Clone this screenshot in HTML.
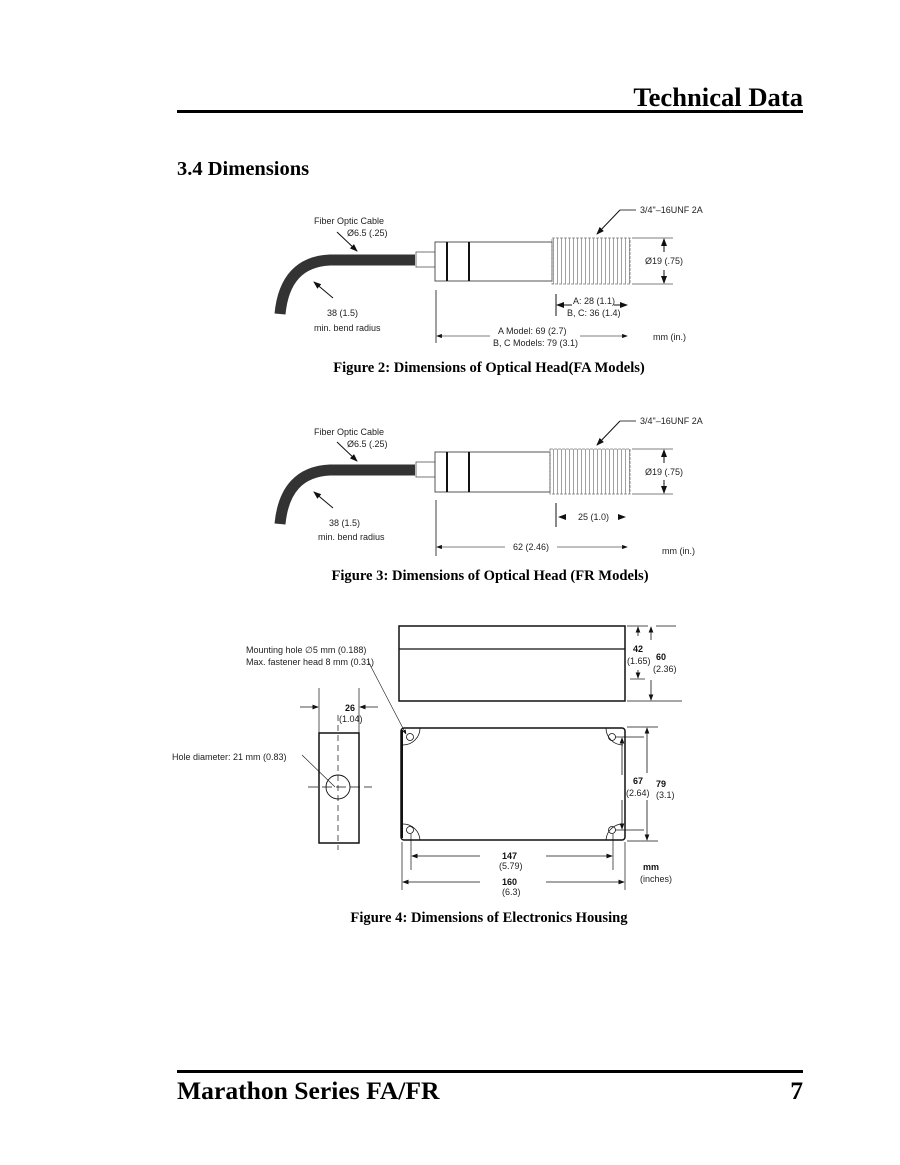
<!DOCTYPE html>
<html><head><meta charset="utf-8"><style>
html,body{margin:0;padding:0;background:#fff}
svg{display:block}
.s{font-family:"Liberation Sans",sans-serif;font-size:9px;fill:#222}
.b{font-family:"Liberation Sans",sans-serif;font-size:9px;font-weight:bold;fill:#111}
.cap{font-family:"Liberation Serif",serif;font-size:14.6px;font-weight:bold;fill:#000}
</style></head><body>
<svg width="900" height="1165" viewBox="0 0 900 1165" xmlns="http://www.w3.org/2000/svg">
<defs>
<marker id="a" markerWidth="8" markerHeight="6" refX="7" refY="3" orient="auto"><path d="M0,0 L8,3 L0,6 Z" fill="#111"/></marker>
<pattern id="thr" width="4" height="10" patternUnits="userSpaceOnUse"><line x1="1.5" y1="0" x2="1.5" y2="10" stroke="#777" stroke-width="0.7"/></pattern>
</defs>
<text x="803" y="106" text-anchor="end" font-family="Liberation Serif,serif" font-size="26.6" font-weight="bold">Technical Data</text>
<rect x="177" y="110" width="626" height="3" fill="#000"/>
<text x="177" y="175" font-family="Liberation Serif,serif" font-size="20.5" font-weight="bold">3.4 Dimensions</text>

<!-- Figure 2 -->
<g>
<path d="M280,314 Q285,262 330,260 L415,260" fill="none" stroke="#333" stroke-width="11"/>
<rect x="416" y="252" width="19" height="15" fill="#fff" stroke="#555" stroke-width="0.8"/>
<rect x="435" y="242" width="117" height="39" fill="#fff" stroke="#444" stroke-width="0.9"/>
<line x1="447" y1="242" x2="447" y2="281" stroke="#111" stroke-width="2"/>
<line x1="469" y1="242" x2="469" y2="281" stroke="#111" stroke-width="2"/>
<rect x="552" y="238" width="78" height="46" fill="url(#thr)" stroke="#777" stroke-width="0.8" stroke-dasharray="3,1"/>
<line x1="632" y1="238" x2="673" y2="238" stroke="#555" stroke-width="0.8"/>
<line x1="632" y1="284" x2="673" y2="284" stroke="#555" stroke-width="0.8"/>
<line x1="664" y1="252" x2="664" y2="239" stroke="#111" marker-end="url(#a)"/>
<line x1="664" y1="270" x2="664" y2="283" stroke="#111" marker-end="url(#a)"/>
<text x="645" y="264" class="s">Ø19 (.75)</text>
<text x="314" y="224" class="s">Fiber Optic Cable</text>
<text x="347" y="236" class="s">Ø6.5 (.25)</text>
<line x1="337" y1="232" x2="357" y2="251" stroke="#111" marker-end="url(#a)"/>
<line x1="333" y1="298" x2="314" y2="282" stroke="#111" marker-end="url(#a)"/>
<text x="327" y="316" class="s">38 (1.5)</text>
<text x="314" y="331" class="s">min. bend radius</text>
<text x="640" y="213" class="s">3/4"–16UNF 2A</text>
<line x1="636" y1="210" x2="620" y2="210" stroke="#111" stroke-width="0.8"/>
<line x1="620" y1="210" x2="597" y2="234" stroke="#111" marker-end="url(#a)"/>
<line x1="556" y1="294" x2="556" y2="316" stroke="#111"/>
<line x1="436" y1="290" x2="436" y2="343" stroke="#111" stroke-width="0.8"/>
<line x1="572" y1="305" x2="557" y2="305" stroke="#111" marker-end="url(#a)"/>
<line x1="614" y1="305" x2="627" y2="305" stroke="#111" marker-end="url(#a)"/>
<text x="573" y="304" class="s">A: 28 (1.1)</text>
<text x="567" y="316" class="s">B, C: 36 (1.4)</text>
<line x1="490" y1="336" x2="437" y2="336" stroke="#555" stroke-width="0.7" marker-end="url(#a)"/>
<line x1="580" y1="336" x2="627" y2="336" stroke="#555" stroke-width="0.7" marker-end="url(#a)"/>
<text x="498" y="334" class="s">A Model: 69 (2.7)</text>
<text x="493" y="346" class="s">B, C Models: 79 (3.1)</text>
<text x="653" y="340" class="s">mm (in.)</text>
</g>
<text x="489" y="372" text-anchor="middle" class="cap">Figure 2: Dimensions of Optical Head(FA Models)</text>

<!-- Figure 3 -->
<g>
<path d="M280,524 Q285,472 330,470 L415,470" fill="none" stroke="#333" stroke-width="11"/>
<rect x="416" y="462" width="19" height="15" fill="#fff" stroke="#555" stroke-width="0.8"/>
<rect x="435" y="452" width="115" height="40" fill="#fff" stroke="#444" stroke-width="0.9"/>
<line x1="447" y1="452" x2="447" y2="492" stroke="#111" stroke-width="2"/>
<line x1="469" y1="452" x2="469" y2="492" stroke="#111" stroke-width="2"/>
<rect x="550" y="449" width="80" height="45" fill="url(#thr)" stroke="#777" stroke-width="0.8" stroke-dasharray="3,1"/>
<line x1="632" y1="449" x2="673" y2="449" stroke="#555" stroke-width="0.8"/>
<line x1="632" y1="494" x2="673" y2="494" stroke="#555" stroke-width="0.8"/>
<line x1="664" y1="463" x2="664" y2="450" stroke="#111" marker-end="url(#a)"/>
<line x1="664" y1="480" x2="664" y2="493" stroke="#111" marker-end="url(#a)"/>
<text x="645" y="475" class="s">Ø19 (.75)</text>
<text x="314" y="435" class="s">Fiber Optic Cable</text>
<text x="347" y="447" class="s">Ø6.5 (.25)</text>
<line x1="337" y1="442" x2="357" y2="461" stroke="#111" marker-end="url(#a)"/>
<line x1="333" y1="508" x2="314" y2="492" stroke="#111" marker-end="url(#a)"/>
<text x="329" y="526" class="s">38 (1.5)</text>
<text x="318" y="540" class="s">min. bend radius</text>
<text x="640" y="424" class="s">3/4"–16UNF 2A</text>
<line x1="636" y1="421" x2="620" y2="421" stroke="#111" stroke-width="0.8"/>
<line x1="620" y1="421" x2="597" y2="445" stroke="#111" marker-end="url(#a)"/>
<line x1="556" y1="503" x2="556" y2="527" stroke="#111"/>
<line x1="436" y1="500" x2="436" y2="556" stroke="#111" stroke-width="0.8"/>
<path d="M558,517 l8,-3 l0,6 z M626,517 l-8,-3 l0,6 z" fill="#111"/>
<text x="578" y="520" class="s">25 (1.0)</text>
<line x1="505" y1="547" x2="437" y2="547" stroke="#555" stroke-width="0.7" marker-end="url(#a)"/>
<line x1="557" y1="547" x2="627" y2="547" stroke="#555" stroke-width="0.7" marker-end="url(#a)"/>
<text x="513" y="550" class="s">62 (2.46)</text>
<text x="662" y="554" class="s">mm (in.)</text>
</g>
<text x="490" y="580" text-anchor="middle" class="cap">Figure 3: Dimensions of Optical Head (FR Models)</text>

<!-- Figure 4 -->
<g stroke="#111" fill="none">
<rect x="399" y="626" width="226" height="75" stroke-width="1.5"/>
<line x1="399" y1="649" x2="625" y2="649" stroke-width="1.3"/>
<rect x="401" y="728" width="224" height="112" rx="3" stroke-width="1.5"/>
<line x1="402" y1="730" x2="402" y2="838" stroke-width="2"/>
<path d="M403,745 A17,17 0 0 0 420,728 M403,824 A17,17 0 0 1 420,840 M623,745 A17,17 0 0 1 606,728 M623,824 A17,17 0 0 0 606,840" stroke-width="0.8"/>
<circle cx="410" cy="737" r="3.5" stroke-width="0.8"/>
<circle cx="612" cy="737" r="3.5" stroke-width="0.8"/>
<circle cx="410" cy="830" r="3.5" stroke-width="0.8"/>
<circle cx="612" cy="830" r="3.5" stroke-width="0.8"/>
<rect x="319" y="733" width="40" height="110" stroke-width="1.5"/>
<circle cx="338" cy="787" r="12" stroke-width="0.9"/>
<line x1="338" y1="715" x2="338" y2="850" stroke-width="0.7" stroke-dasharray="6,4"/>
<line x1="308" y1="787" x2="372" y2="787" stroke-width="0.7" stroke-dasharray="10,4"/>
<line x1="319" y1="688" x2="319" y2="733" stroke-width="0.7"/>
<line x1="359" y1="688" x2="359" y2="733" stroke-width="0.7"/>
<line x1="300" y1="707" x2="318" y2="707" stroke-width="0.8" marker-end="url(#a)"/>
<line x1="378" y1="707" x2="360" y2="707" stroke-width="0.8" marker-end="url(#a)"/>
<line x1="302" y1="755" x2="335" y2="787" stroke-width="0.6"/>
<line x1="368" y1="661" x2="406" y2="734" stroke-width="0.6" marker-end="url(#a)"/>
<line x1="627" y1="626" x2="648" y2="626" stroke-width="0.7"/>
<line x1="627" y1="701" x2="682" y2="701" stroke-width="0.7"/>
<line x1="656" y1="626" x2="676" y2="626" stroke-width="0.7"/>
<line x1="630" y1="679" x2="645" y2="679" stroke-width="0.7"/>
<line x1="638" y1="636" x2="638" y2="627" stroke-width="0.8" marker-end="url(#a)"/>
<line x1="638" y1="670" x2="638" y2="678" stroke-width="0.8" marker-end="url(#a)"/>
<line x1="651" y1="640" x2="651" y2="627" stroke-width="0.8" marker-end="url(#a)"/>
<line x1="651" y1="680" x2="651" y2="700" stroke-width="0.8" marker-end="url(#a)"/>
<line x1="615" y1="737" x2="644" y2="737" stroke-width="0.7"/>
<line x1="615" y1="830" x2="644" y2="830" stroke-width="0.7"/>
<line x1="627" y1="727" x2="658" y2="727" stroke-width="0.7"/>
<line x1="627" y1="841" x2="658" y2="841" stroke-width="0.7"/>
<line x1="622" y1="775" x2="622" y2="738" stroke-width="0.8" marker-end="url(#a)"/>
<line x1="622" y1="800" x2="622" y2="829" stroke-width="0.8" marker-end="url(#a)"/>
<line x1="647" y1="773" x2="647" y2="728" stroke-width="0.8" marker-end="url(#a)"/>
<line x1="647" y1="800" x2="647" y2="840" stroke-width="0.8" marker-end="url(#a)"/>
<line x1="402" y1="842" x2="402" y2="890" stroke-width="0.7"/>
<line x1="625" y1="842" x2="625" y2="890" stroke-width="0.7"/>
<line x1="411" y1="834" x2="411" y2="870" stroke-width="0.7"/>
<line x1="613" y1="834" x2="613" y2="870" stroke-width="0.7"/>
<line x1="480" y1="856" x2="412" y2="856" stroke-width="0.8" marker-end="url(#a)"/>
<line x1="546" y1="856" x2="612" y2="856" stroke-width="0.8" marker-end="url(#a)"/>
<line x1="480" y1="882" x2="403" y2="882" stroke-width="0.8" marker-end="url(#a)"/>
<line x1="546" y1="882" x2="624" y2="882" stroke-width="0.8" marker-end="url(#a)"/>
</g>
<text x="246" y="653" class="s">Mounting hole ∅5 mm (0.188)</text>
<text x="246" y="665" class="s">Max. fastener head 8 mm (0.31)</text>
<text x="345" y="711" class="b">26</text>
<text x="339" y="722" class="s">(1.04)</text>
<text x="172" y="760" class="s">Hole diameter: 21 mm (0.83)</text>
<text x="633" y="652" class="b">42</text>
<text x="627" y="664" class="s">(1.65)</text>
<text x="656" y="660" class="b">60</text>
<text x="653" y="672" class="s">(2.36)</text>
<text x="633" y="784" class="b">67</text>
<text x="626" y="796" class="s">(2.64)</text>
<text x="656" y="787" class="b">79</text>
<text x="656" y="798" class="s">(3.1)</text>
<text x="502" y="859" class="b">147</text>
<text x="499" y="869" class="s">(5.79)</text>
<text x="502" y="885" class="b">160</text>
<text x="502" y="895" class="s">(6.3)</text>
<text x="643" y="870" class="b">mm</text>
<text x="640" y="882" class="s">(inches)</text>
<text x="489" y="922" text-anchor="middle" class="cap">Figure 4: Dimensions of Electronics Housing</text>

<rect x="177" y="1070" width="626" height="3" fill="#000"/>
<text x="177" y="1099" font-family="Liberation Serif,serif" font-size="25.6" font-weight="bold">Marathon Series FA/FR</text>
<text x="803" y="1099" text-anchor="end" font-family="Liberation Serif,serif" font-size="25.6" font-weight="bold">7</text>
</svg>
</body></html>
